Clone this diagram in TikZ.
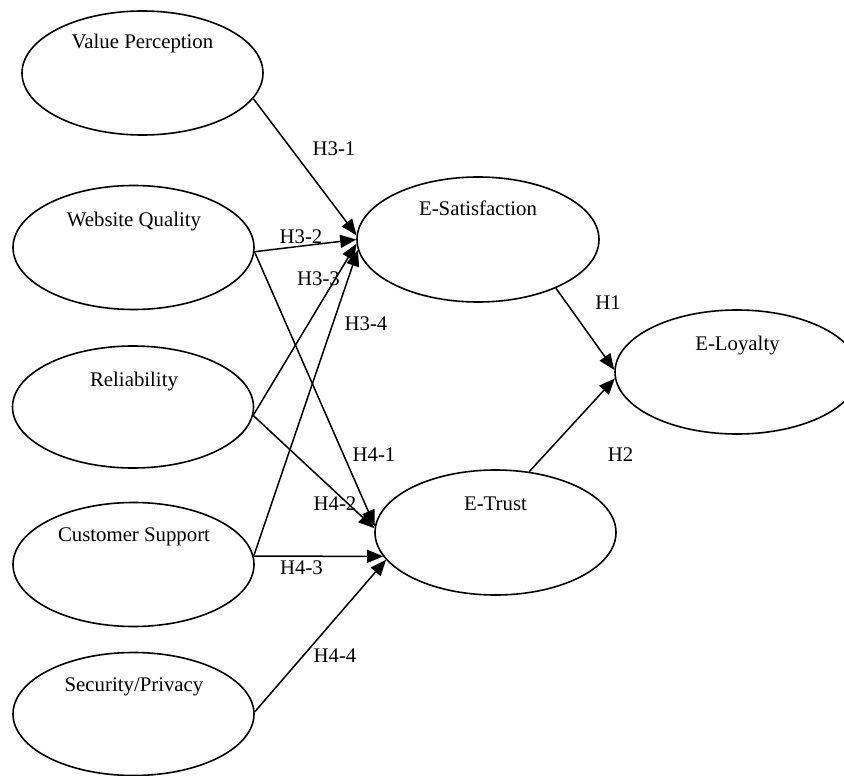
\documentclass[tikz,border=0pt]{standalone}
\usepackage{fontspec}
\setmainfont{Liberation Serif}
\usetikzlibrary{shapes.geometric,arrows.meta}
\tikzset{
  latent/.style={draw=black, line width=1.6pt, ellipse, minimum width=241pt, minimum height=124pt, inner sep=0pt},
  lbl/.style={anchor=base, inner sep=0pt, font=\fontsize{20.8}{24}\selectfont},
  path/.style={draw=black, line width=1.5pt, -{Triangle[length=16pt,width=13pt]}}
}
\begin{document}
\begin{tikzpicture}[x=1pt,y=-1pt]
\useasboundingbox (0,0) rectangle (844,776);
\clip (0,0) rectangle (844,776);
% constructs
\node[latent] (vp) at (142.5,73) {};
\node[latent] (wq) at (133.5,247.5) {};
\node[latent, minimum height=122pt] (rel) at (133,407) {};
\node[latent] (cs) at (133.5,564.5) {};
\node[latent, minimum height=123pt] (sp) at (133.5,714) {};
\node[latent, minimum width=242pt, minimum height=125pt] (es) at (478,239.5) {};
\node[latent, minimum height=125pt] (et) at (495.5,532.5) {};
\node[latent, minimum width=244pt] (el) at (737,372) {};
% construct names
\node[lbl] (tvp) at (142.5,48.3) {Value Perception};
\node[lbl] (twq) at (134,226) {Website Quality};
\node[lbl] (trel) at (134,386) {Reliability};
\node[lbl] (tcs) at (134,541.7) {Customer Support};
\node[lbl] (tsp) at (134,691.7) {Security/Privacy};
\node[lbl] (tes) at (478,215) {E-Satisfaction};
\node[lbl] (tet) at (495.5,510) {E-Trust};
\node[lbl] (tel) at (737.5,350) {E-Loyalty};
% paths
\draw[path] (vp.-13) -- (es.178.5);
\draw[path] (wq.-2) -- (es.180);
\draw[path] (rel.-4) -- (es.182.5);
\draw[path] (cs.4) -- (es.185);
\draw[path] (wq.-2) -- (et.177);
\draw[path] (rel.-4) -- (et.178.5);
\draw[path] (cs.4) -- (et.192);
\draw[path] (sp.1) -- (et.194);
\draw[path] (es.-32) -- (el.179);
\draw[path] (et.61) -- (el.183);
% hypothesis labels
\node[lbl] (h31) at (334,155) {H3-1};
\node[lbl] (h32) at (301,243) {H3-2};
\node[lbl] (h33) at (318.5,285) {H3-3};
\node[lbl] (h34) at (366,330) {H3-4};
\node[lbl] (h41) at (374,461.7) {H4-1};
\node[lbl] (h42) at (335,510) {H4-2};
\node[lbl] (h43) at (301.5,574) {H4-3};
\node[lbl] (h44) at (335,662.7) {H4-4};
\node[lbl] (h1) at (608,309) {H1};
\node[lbl] (h2) at (620.5,461.7) {H2};
\end{tikzpicture}
\end{document}
